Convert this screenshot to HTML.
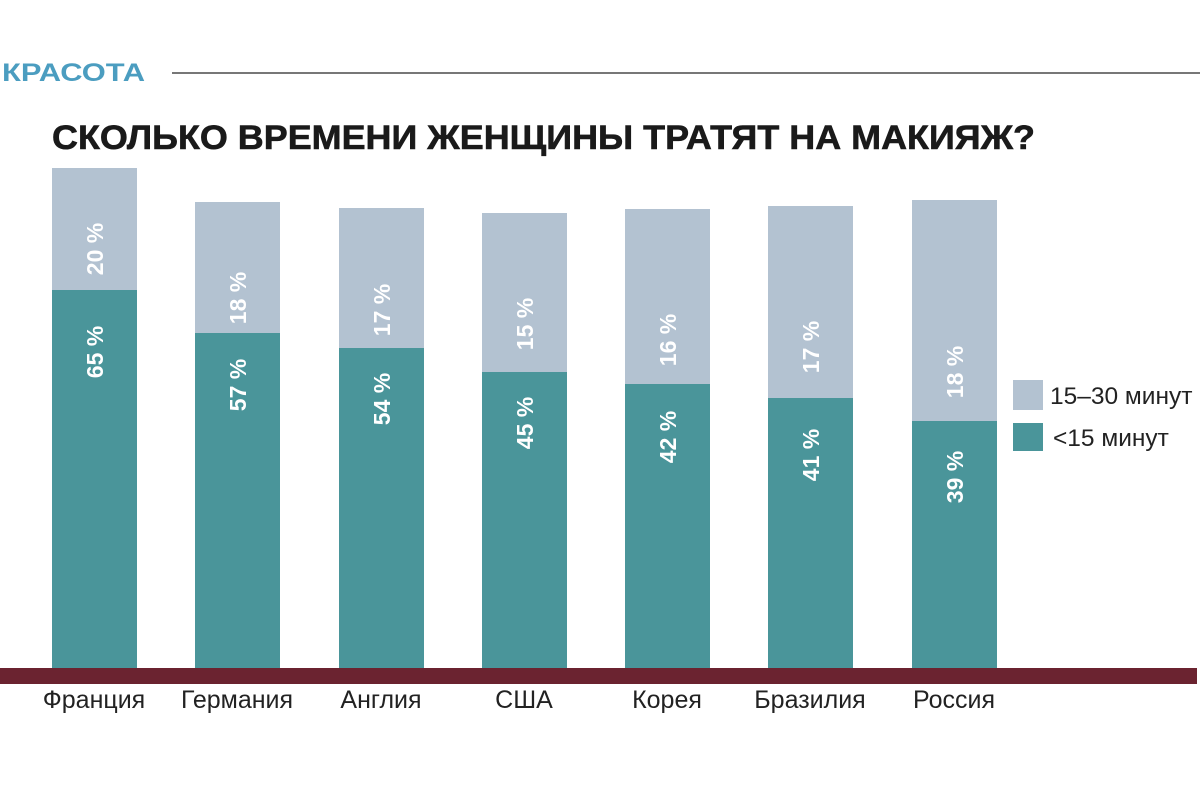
<!DOCTYPE html>
<html><head><meta charset="utf-8"><style>
html,body{margin:0;padding:0;background:#fff;}
svg{display:block;}
</style></head><body>
<svg width="1200" height="800" viewBox="0 0 1200 800" xmlns="http://www.w3.org/2000/svg" font-family="Liberation Sans, DejaVu Sans, sans-serif">
<rect width="1200" height="800" fill="#fff"/>
<text x="2" y="81" font-size="25" font-weight="bold" fill="#4b9dc0" textLength="143" lengthAdjust="spacingAndGlyphs">КРАСОТА</text>
<rect x="172" y="72" width="1028" height="2" fill="#777"/>
<text x="52" y="149" font-size="34" font-weight="bold" fill="#1a1a1a" stroke="#1a1a1a" stroke-width="0.6" textLength="983" lengthAdjust="spacingAndGlyphs">СКОЛЬКО ВРЕМЕНИ ЖЕНЩИНЫ ТРАТЯТ НА МАКИЯЖ?</text>
<g fill="#b3c2d1">
<rect x="52" y="168" width="85" height="122"/>
<rect x="195" y="202" width="85" height="131"/>
<rect x="339" y="208" width="85" height="140"/>
<rect x="482" y="213" width="85" height="159"/>
<rect x="625" y="209" width="85" height="175"/>
<rect x="768" y="206" width="85" height="192"/>
<rect x="912" y="200" width="85" height="221"/>
</g>
<g fill="#4a959a">
<rect x="52" y="290" width="85" height="378"/>
<rect x="195" y="333" width="85" height="335"/>
<rect x="339" y="348" width="85" height="320"/>
<rect x="482" y="372" width="85" height="296"/>
<rect x="625" y="384" width="85" height="284"/>
<rect x="768" y="398" width="85" height="270"/>
<rect x="912" y="421" width="85" height="247"/>
</g>
<rect x="0" y="668" width="1197" height="16" fill="#6b2330"/>
<g fill="#fff" font-size="23" font-weight="bold" text-anchor="middle">
<text transform="translate(103,249) rotate(-90)">20 %</text>
<text transform="translate(103,352) rotate(-90)">65 %</text>
<text transform="translate(246,298) rotate(-90)">18 %</text>
<text transform="translate(246,385) rotate(-90)">57 %</text>
<text transform="translate(390,310) rotate(-90)">17 %</text>
<text transform="translate(390,399) rotate(-90)">54 %</text>
<text transform="translate(533,324) rotate(-90)">15 %</text>
<text transform="translate(533,423) rotate(-90)">45 %</text>
<text transform="translate(676,340) rotate(-90)">16 %</text>
<text transform="translate(676,437) rotate(-90)">42 %</text>
<text transform="translate(819,347) rotate(-90)">17 %</text>
<text transform="translate(819,455) rotate(-90)">41 %</text>
<text transform="translate(963,372) rotate(-90)">18 %</text>
<text transform="translate(963,477) rotate(-90)">39 %</text>
</g>
<g fill="#222" font-size="25" text-anchor="middle">
<text x="94" y="708">Франция</text>
<text x="237" y="708">Германия</text>
<text x="381" y="708">Англия</text>
<text x="524" y="708">США</text>
<text x="667" y="708">Корея</text>
<text x="810" y="708">Бразилия</text>
<text x="954" y="708">Россия</text>
</g>
<rect x="1013" y="380" width="30" height="30" fill="#b3c2d1"/>
<rect x="1013" y="423" width="30" height="28" fill="#4a959a"/>
<g fill="#222" font-size="24.5">
<text x="1050" y="404">15–30 минут</text>
<text x="1053" y="446">&lt;15 минут</text>
</g>
</svg>
</body></html>
